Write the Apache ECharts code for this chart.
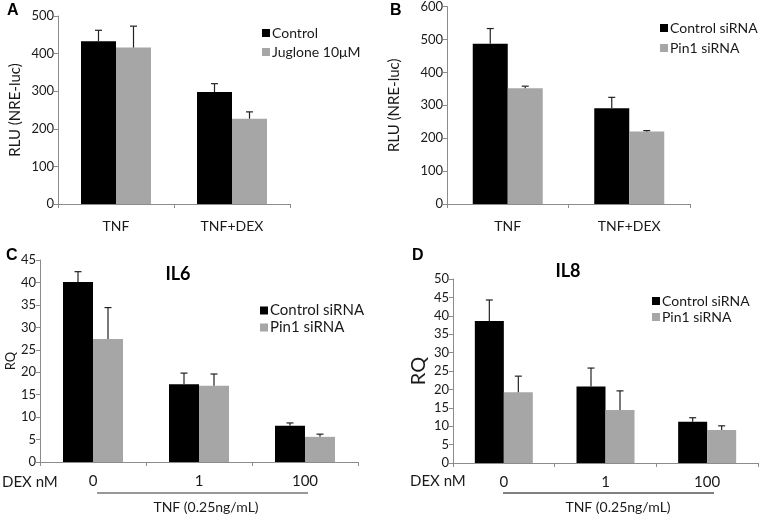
<!DOCTYPE html>
<html><head><meta charset="utf-8">
<script src="https://cdn.jsdelivr.net/npm/echarts@6/dist/echarts.min.js"></script>
<style>html,body{margin:0;padding:0;background:#fff}#c{width:760px;height:516px}</style>
</head><body><div id="c"></div>
<script>
const catsAB = ['TNF', 'TNF+DEX'];
const catsCD = ['0', '1', '100'];
const aControl = [433, 298];
const aControlErr = [29, 22];
const aJuglone = [416, 227];
const aJugloneErr = [57, 18];
const bControl = [487, 291];
const bControlErr = [46, 33];
const bPin1 = [352, 220];
const bPin1Err = [6, 3];
const cControl = [40.1, 17.3, 8.1];
const cControlErr = [2.3, 2.5, 0.6];
const cPin1 = [27.4, 17.0, 5.6];
const cPin1Err = [7.0, 2.6, 0.6];
const dControl = [38.6, 20.8, 11.2];
const dControlErr = [5.7, 5.0, 1.1];
const dPin1 = [19.2, 14.4, 9.0];
const dPin1Err = [4.4, 5.2, 1.1];

const FONT = 'Lato';
const BLACK = '#000000', GRAY = '#a6a6a6';

const grids = [
  {left: 58, top: 16, width: 232, height: 188},
  {left: 447, top: 5, width: 243, height: 199},
  {left: 40, top: 260, width: 318, height: 202},
  {left: 453, top: 279, width: 305, height: 184}
];
const yCfg = [
  {max: 500, interval: 100, name: 'RLU (NRE-luc)', nameGap: 35, nameSize: 15},
  {max: 600, interval: 100, name: 'RLU (NRE-luc)', nameGap: 45, nameSize: 15},
  {max: 45, interval: 5, name: 'RQ', nameGap: 23, nameSize: 13},
  {max: 50, interval: 5, name: 'RQ', nameGap: 24, nameSize: 20}
];
const barW = [35, 35, 30, 29];
const cats = [catsAB, catsAB, catsCD, catsCD];

const xAxis = grids.map((g, i) => ({
  type: 'category', gridIndex: i, data: cats[i],
  axisLine: {lineStyle: {color: '#8c8c8c', width: 1}},
  axisTick: {show: true, length: 4, lineStyle: {color: '#8c8c8c'}},
  axisLabel: {color: '#1a1a1a', fontFamily: FONT, fontSize: i < 2 ? 14 : 15, margin: i < 2 ? 15 : 12}
}));
const yAxis = grids.map((g, i) => ({
  type: 'value', gridIndex: i, min: 0, max: yCfg[i].max, interval: yCfg[i].interval,
  name: yCfg[i].name, nameLocation: 'middle', nameGap: yCfg[i].nameGap,
  nameTextStyle: {color: '#1a1a1a', fontFamily: FONT, fontSize: yCfg[i].nameSize},
  splitLine: {show: false},
  axisLine: {show: true, lineStyle: {color: '#8c8c8c', width: 1}},
  axisTick: {show: true, length: 4, lineStyle: {color: '#8c8c8c'}},
  axisLabel: {color: '#1a1a1a', fontFamily: FONT, fontSize: 13, margin: 4}
}));

function barSeries(name, data, color, gi) {
  return {type: 'bar', name, data, xAxisIndex: gi, yAxisIndex: gi, barWidth: barW[gi], barGap: '0%',
    itemStyle: {color}, silent: true, z: 2};
}
function errSeries(vals, errs, gi, side) {
  const data = vals.map((v, k) => [k, v, v + errs[k]]);
  const w = barW[gi];
  return {type: 'custom', xAxisIndex: gi, yAxisIndex: gi, data, z: 3, silent: true,
    encode: {x: 0, y: [1, 2]},
    renderItem: function (params, api) {
      const base = api.coord([api.value(0), api.value(1)]);
      const top = api.coord([api.value(0), api.value(2)]);
      const x = base[0] + side * w / 2;
      const st = {stroke: '#222', lineWidth: 1.2};
      return {type: 'group', children: [
        {type: 'line', shape: {x1: x, y1: base[1], x2: x, y2: top[1]}, style: st},
        {type: 'line', shape: {x1: x - 3.5, y1: top[1], x2: x + 3.5, y2: top[1]}, style: st}
      ]};
    }};
}

const series = [
  barSeries('Control', aControl, BLACK, 0), barSeries('Juglone 10μM', aJuglone, GRAY, 0),
  errSeries(aControl, aControlErr, 0, -1), errSeries(aJuglone, aJugloneErr, 0, 1),
  barSeries('Control siRNA', bControl, BLACK, 1), barSeries('Pin1 siRNA', bPin1, GRAY, 1),
  errSeries(bControl, bControlErr, 1, -1), errSeries(bPin1, bPin1Err, 1, 1),
  barSeries('Control siRNA', cControl, BLACK, 2), barSeries('Pin1 siRNA', cPin1, GRAY, 2),
  errSeries(cControl, cControlErr, 2, -1), errSeries(cPin1, cPin1Err, 2, 1),
  barSeries('Control siRNA', dControl, BLACK, 3), barSeries('Pin1 siRNA', dPin1, GRAY, 3),
  errSeries(dControl, dControlErr, 3, -1), errSeries(dPin1, dPin1Err, 3, 1)
];

function legend(names, left, top, gap, size) {
  return {data: names, orient: 'vertical', left, top, itemWidth: 8, itemHeight: 8, itemGap: gap,
    icon: 'rect', selectedMode: false,
    textStyle: {color: '#1a1a1a', fontFamily: FONT, fontSize: size, padding: [0, 0, 0, -3]}, padding: 0};
}

function letter(t, left, top) {
  return {text: t, left, top, padding: 0,
    textStyle: {fontFamily: 'Liberation Sans', fontWeight: 'bold', fontSize: 16, color: '#000'}};
}

const option = {
  animation: false,
  backgroundColor: '#fff',
  title: [
    letter('A', 7, 3), letter('B', 390, 3), letter('C', 6, 248), letter('D', 412, 248),
    {text: 'IL6', left: 178, top: 265, textAlign: 'center', padding: 0,
      textStyle: {fontFamily: FONT, fontWeight: 'bold', fontSize: 18, color: '#000'}},
    {text: 'IL8', left: 568, top: 262, textAlign: 'center', padding: 0,
      textStyle: {fontFamily: FONT, fontWeight: 'bold', fontSize: 18, color: '#000'}}
  ],
  legend: [
    legend(['Control', 'Juglone 10μM'], 262, 26, 5, 14),
    legend(['Control siRNA', 'Pin1 siRNA'], 660, 21, 6, 14),
    legend(['Control siRNA', 'Pin1 siRNA'], 260, 303, 2, 15),
    legend(['Control siRNA', 'Pin1 siRNA'], 652, 294, 2, 14)
  ],
  grid: grids,
  xAxis, yAxis, series,
  graphic: [
    {type: 'text', left: 2, top: 475, style: {text: 'DEX nM', fontFamily: FONT, fontSize: 15, fill: '#1a1a1a'}},
    {type: 'line', shape: {x1: 97, y1: 493, x2: 308, y2: 493}, style: {stroke: '#333', lineWidth: 1}},
    {type: 'text', x: 206, y: 507, style: {text: 'TNF (0.25ng/mL)', fontFamily: FONT, fontSize: 14, fill: '#1a1a1a', align: 'center', verticalAlign: 'middle'}},
    {type: 'text', left: 410, top: 474, style: {text: 'DEX nM', fontFamily: FONT, fontSize: 15, fill: '#1a1a1a'}},
    {type: 'line', shape: {x1: 503, y1: 493, x2: 714, y2: 493}, style: {stroke: '#000', lineWidth: 1}},
    {type: 'text', x: 618, y: 507, style: {text: 'TNF (0.25ng/mL)', fontFamily: FONT, fontSize: 14, fill: '#1a1a1a', align: 'center', verticalAlign: 'middle'}}
  ]
};
const chart = echarts.init(document.getElementById('c'), null, {renderer: 'canvas'});
chart.setOption(option);
</script></body></html>
